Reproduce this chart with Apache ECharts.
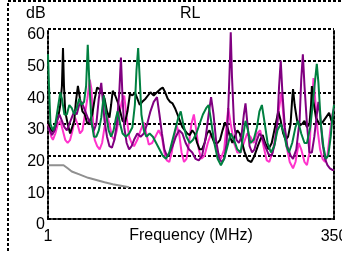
<!DOCTYPE html>
<html>
<head>
<meta charset="utf-8">
<script src="https://cdn.jsdelivr.net/npm/echarts@6/dist/echarts.min.js"></script>
<style>
  html, body { margin: 0; padding: 0; background: #fff; }
  #rlChart { width: 342px; height: 253px; }
</style>
</head>
<body>
<div id="rlChart"></div>
<script>
// return loss traces, frequency in MHz / value in dB
var yTicks = [0, 10, 20, 30, 40, 50, 60];
var xTickLabels = [1, 350];

var blackFreq = [1,3,5,8,11,14,16,18,19.3,20.5,22,25,28,30,33,35,37.5,40,43,46,49,52,55,58,61,64,67,70,73,76,78,80,83,86,89,92,95,98,101,104,107,110,113,116,120,123,126,130,134,138,141,144,147,150,153,156,159,162,165,168,171,174,177,180,183,186,189,192,195,198,201,204,208,211,214,217,220,223,226,229,232,235,238,241,245,249,253,257,260,263,266,270,274,278,282,285,288,291,294,297,299,300,302,305,308,311,314,317,320,322,323,325,328,332,336,340,344,347,350];
var blackDb = [31,29,28,27.5,30,33,36,42,54,42,34,30,27,26.5,31,37,42,38,34,33,30,31,33,38,41.5,41,40,38,34,32,36,40.5,39,37,34,31,30.5,34,39.5,39,40,38,36,37,38,39,40,39,40,41,41.5,40,38,37,36.5,35,33,31,29,28,27,26.5,28,27,24,22,22,24,27,28,26,24,24,25,28,30.5,29,26,24,26,28,27,24,21,18.5,18,20,23,25,26.5,24,22,24,29,34,31,27,25,26,30,38,41,36,31,29.5,30,31,29,30,36,42,37,32,30,30.5,32,33.5,31,31];

var purpleFreq = [1,3,6,9,12,15,18,21,24,27,30,33,36,39,42,45,48,51,54,57,60,63,66,68,70,73,76,79,82,85,88,90,92,94,97,100,103,106,110,114,118,122,126,130,134,137,140,143,146,149,153,157,161,165,169,173,177,181,185,189,193,197,200,203,206,210,213,216,219,221,223,224,225.5,228,231,234,237,240,242,244,247,250,253,256,259,262,266,270,274,278,281,283,285,287,290,293,297,300,304,308,310,312,314,317,320,323,326,329,331,333,336,339,342,345,348,350];
var purpleDb = [29,28,26.5,28,31,33,31,29,28,30,32,34,33,36,37,35,33,31,30,28,30,38,43,37,31,26,23,22.5,25,30,40,51,38,29,24,22,23,25,27,26,27,30,34,37,38.5,33,27,22,20,20.5,23,26,28,27,24,22,21,19,18.5,20,25,33,38.5,33,25,19,18,19,24,35,50,59,45,30,25,24,26,33,36.5,31,23,21,22,25,27,26,23,20.5,20,24,31,42,50,40,29,23,20,19,22,31,44,52,42,30,21,21,26,33,37,33,24,19,17,16,15.5,15.5];

var pinkFreq = [1,3,5,7,10,13,16,19,22,25,28,31,34,37,40,43,46,49,52,54,56,58,61,64,67,70,73,76,79,82,85,88,91,94,97,100,103,106,110,114,118,121,124,128,132,136,140,143,146,149,152,155,158,161,164,167,170,173,176,179,182,185,188,192,196,200,204,208,212,216,219,221,224,228,232,236,240,244,248,252,256,260,264,268,271,275,279,283,286,289,292,296,300,303,307,310,314,317,320,322,325,327,330,333,336,339,342,345,348,350];
var pinkDb = [30,28,26,25,27,30,31,28,25,24,25,28,32,30,27,28,33,38,44,41,31,25,23,22,24,29,33,30,26,25,28,33,37,39,32,26,24,23,25,28,30.5,27,23.5,24,26,28,26,21,18.5,18,21,26,29.5,27,21,18,19,24,30,33,28,22,19,20,24,27,25,21,19,22,30,35,30,24,21,21,24,27,26,24,27,28,23,18.5,18,21,27,35,40,30,23,18,16,18,24,22,18,17,21,33,44.5,38,28,22,19,18,20,27,33,35];

var greenFreq = [1,2.5,4,7,10,13,16,18,21,24,27,30,33,36,39,42,45,47.5,49.5,51.5,54,57,60,63,66,69,72,75,78,81,84,86,89,92,96,100,104,107,109,111,113,115,118,121,125,129,133,137,141,145,149,153,157,160,163,166,170,174,178,182,186,190,194,197,200,204,208,212,216,220,224,228,232,236,239,242,245,248,252,256,259,262,265,269,273,277,281,285,289,292,295,299,303,306,310,314,317,321,324,327,329,331,334,337,340,343,346,348,350];
var greenDb = [52,40,30,28,30,35,40,38,33,33,36,35,33,35,38,36,37,42,55,43,31,26,26,28,32,39,33,28,26,28,32,34,30,27,26,27,29,36,47,54,44,33,28,26,27,26,24,22,20,19,21,25,29,32,34,30,26,24,25,27,30,33,35,36,31,24,19,17,19,23,27,25,22,21,26,31,28,24,25,29,34,36,31,24,21,23,28,30,27,23,21,24,29,31,27,24,24,29,36,44,49,43,30,23,19,20,26,32,36];

var limitFreq = [1,20,25,30,40,50,60,70,80,90,100];
var limitDb = [17,17,16,15,14,13,12.3,11.6,11,10.5,10];

function pairs(freq, db) {
  return freq.map(function (f, i) { return [f, db[i]]; });
}

var dash = { color: "#000", width: 2, type: [3, 2] };
var font = "Liberation Sans";

var rlChart = echarts.init(document.getElementById("rlChart"));
var option = {
  animation: false,
  textStyle: { fontFamily: font },
  grid: { left: 48, right: 8, top: 29, bottom: 34, outerBoundsMode: "none" },
  graphic: [
    {
      type: "rect",
      shape: { x: 8, y: 1, width: 400, height: 300 },
      style: { fill: "none", stroke: "#000", lineWidth: 2, lineDash: [3, 2] },
      silent: true
    },
    {
      type: "text", left: 26, top: 6,
      style: { text: "dB", font: "16px " + font, fill: "#000" }
    },
    {
      type: "text", left: 180, top: 6,
      style: { text: "RL", font: "16px " + font, fill: "#000" }
    }
  ],
  xAxis: {
    type: "value",
    min: 1,
    max: 350,
    name: "Frequency (MHz)",
    nameLocation: "middle",
    nameGap: 9,
    nameMoveOverlap: false,
    nameTextStyle: { fontSize: 16, color: "#000", fontFamily: font },
    axisLine: { lineStyle: dash },
    axisTick: { show: false },
    splitLine: { show: false },
    axisLabel: {
      customValues: xTickLabels,
      fontSize: 16,
      color: "#000",
      margin: 10
    }
  },
  yAxis: [
    {
      type: "value",
      min: 0,
      max: 60,
      interval: 10,
      axisLine: { show: true, lineStyle: dash },
      axisTick: { show: false },
      splitLine: { show: true, lineStyle: dash },
      axisLabel: {
        fontSize: 16,
        color: "#000",
        margin: 3,
        verticalAlign: "top",
        lineHeight: 12,
        customValues: yTicks
      }
    },
    {
      type: "value",
      min: 0,
      max: 60,
      position: "right",
      axisLine: { show: true, lineStyle: dash },
      axisTick: { show: false },
      axisLabel: { show: false },
      splitLine: { show: false }
    }
  ],
  series: [
    {
      type: "line", data: pairs(limitFreq, limitDb), showSymbol: false,
      lineStyle: { color: "#909090", width: 2 }
    },
    {
      type: "line", data: pairs(pinkFreq, pinkDb), showSymbol: false,
      lineStyle: { color: "#ff33cc", width: 2 }
    },
    {
      type: "line", data: pairs(blackFreq, blackDb), showSymbol: false,
      lineStyle: { color: "#000000", width: 2 }
    },
    {
      type: "line", data: pairs(purpleFreq, purpleDb), showSymbol: false,
      lineStyle: { color: "#800080", width: 2 }
    },
    {
      type: "line", data: pairs(greenFreq, greenDb), showSymbol: false,
      lineStyle: { color: "#008040", width: 2 }
    }
  ]
};
rlChart.setOption(option);
</script>
</body>
</html>
